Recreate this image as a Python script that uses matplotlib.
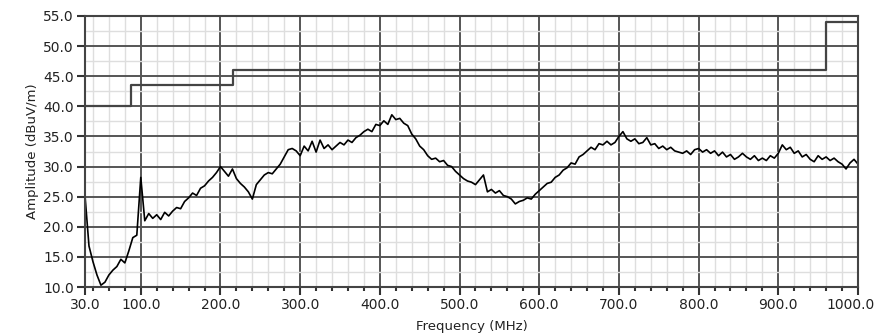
import matplotlib
matplotlib.use("Agg")
import matplotlib.pyplot as plt
from matplotlib.ticker import FixedLocator, FormatStrFormatter
from matplotlib.transforms import ScaledTranslation

# sweep points, 5 MHz apart
freq_mhz = list(range(30, 1001, 5))

# measured emission level, dBuV/m
amplitude = [
    25.2, 16.8, 14.2, 12.0, 10.3, 10.8, 12.0, 12.8, 13.4, 14.6, 14.0, 16.0, 18.2, 18.6, 28.2,
    21.0, 22.2, 21.4, 22.0, 21.2, 22.4, 21.8, 22.6, 23.2, 23.0,
    24.2, 24.8, 25.6, 25.2, 26.4, 26.8, 27.6, 28.2, 29.0, 30.0,
    29.2, 28.4, 29.6, 28.0, 27.2, 26.6, 25.8, 24.6, 27.0, 27.8,
    28.6, 29.0, 28.8, 29.6, 30.4, 31.6, 32.8, 33.0, 32.6, 31.8,
    33.4, 32.6, 34.2, 32.4, 34.4, 33.0, 33.6, 32.8, 33.4, 34.0,
    33.6, 34.4, 34.0, 34.8, 35.2, 35.8, 36.2, 35.8, 37.0, 36.8,
    37.6, 37.0, 38.6, 37.8, 38.0, 37.2, 36.8, 35.4, 34.6, 33.4,
    32.8, 31.8, 31.2, 31.4, 30.8, 31.0, 30.2, 30.0, 29.2, 28.6,
    28.0, 27.6, 27.4, 27.0, 27.8, 28.6, 25.8, 26.2, 25.6, 26.0,
    25.2, 25.0, 24.6, 23.8, 24.2, 24.4, 24.8, 24.6, 25.4, 26.0,
    26.6, 27.2, 27.4, 28.2, 28.6, 29.4, 29.8, 30.6, 30.4, 31.6,
    32.0, 32.6, 33.2, 32.8, 33.8, 33.6, 34.2, 33.6, 34.0, 35.0,
    35.8, 34.6, 34.2, 34.6, 33.8, 34.0, 34.8, 33.6, 33.8, 33.0,
    33.4, 32.8, 33.2, 32.6, 32.4, 32.2, 32.6, 32.0, 32.8, 33.0,
    32.4, 32.8, 32.2, 32.6, 31.8, 32.4, 31.6, 32.0, 31.2, 31.6,
    32.2, 31.6, 31.2, 31.8, 31.0, 31.4, 31.0, 31.8, 31.4, 32.2,
    33.6, 32.8, 33.2, 32.2, 32.6, 31.6, 32.0, 31.2, 30.8, 31.8,
    31.2, 31.6, 31.0, 31.4, 30.8, 30.4, 29.6, 30.6, 31.2, 30.4,
]

# limit line steps
limit_freq = [30, 88, 216, 960, 1000]
limit_level = [40.0, 43.5, 46.0, 54.0, 54.0]

x_major = [30, 100, 200, 300, 400, 500, 600, 700, 800, 900, 1000]
y_major = [10, 15, 20, 25, 30, 35, 40, 45, 50, 55]

fig = plt.figure(figsize=(8.79, 3.34), dpi=100)
ax = fig.add_axes([0.0967, 0.1407, 0.8794, 0.8114])

ax.set_xlim(30, 1000)
ax.set_ylim(10, 55)

# grid: light minor cells, dark major lines
ax.xaxis.set_major_locator(FixedLocator(x_major))
ax.xaxis.set_minor_locator(FixedLocator([f for f in range(40, 1000, 20) if f % 100]))
ax.yaxis.set_major_locator(FixedLocator(y_major))
ax.yaxis.set_minor_locator(FixedLocator([12.5 + 5 * i for i in range(9)]))
ax.grid(which="minor", color="#dedede", linewidth=1.0)
ax.grid(which="major", color="#555555", linewidth=1.4)
ax.set_axisbelow(True)

ax.plot(freq_mhz, amplitude, color="black", linewidth=1.2)
ax.plot(limit_freq, limit_level, color="#444444", linewidth=1.6, drawstyle="steps-post")

ax.xaxis.set_major_formatter(FormatStrFormatter("%.1f"))
ax.yaxis.set_major_formatter(FormatStrFormatter("%.1f"))
ax.tick_params(which="major", direction="out", length=6, width=1.5, color="#333333",
               labelsize=10, labelcolor="#222222", pad=2)
ax.tick_params(which="minor", direction="out", length=3, width=1.5, color="#333333")
ax.tick_params(axis="y", which="minor", length=0)

# keep the last frequency label inside the figure
fig.canvas.draw()
last = ax.get_xticklabels()[-1]
last.set_transform(last.get_transform() + ScaledTranslation(-7 / 100, 0, fig.dpi_scale_trans))

for side in ax.spines.values():
    side.set_color("#444444")
    side.set_linewidth(1.5)

ax.set_xlabel("Frequency (MHz)", fontsize=9.5, color="#222222", labelpad=6)
ax.set_ylabel("Amplitude (dBuV/m)", fontsize=9.5, color="#222222", labelpad=3)

fig.savefig("out.png", dpi=100)
